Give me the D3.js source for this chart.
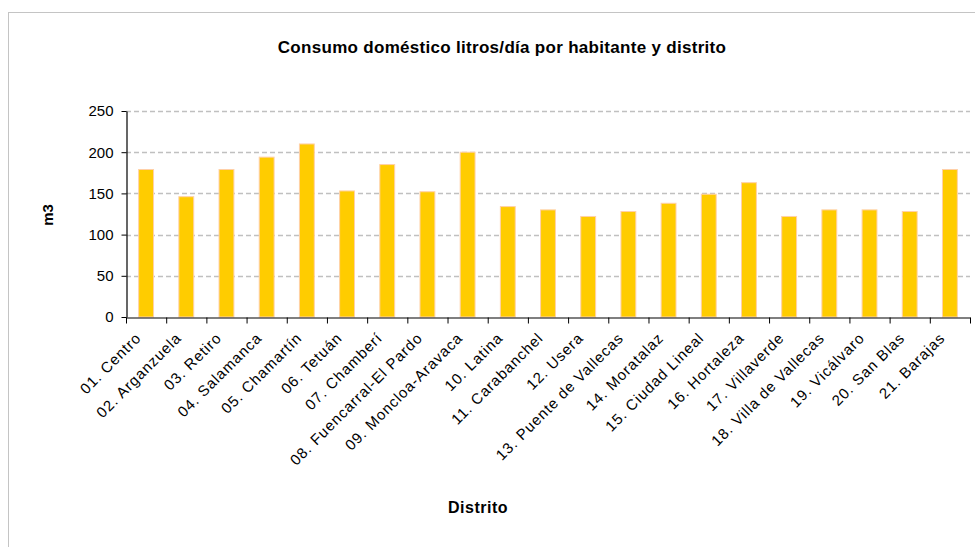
<!DOCTYPE html>
<html>
<head>
<meta charset="utf-8">
<script src="https://cdn.jsdelivr.net/npm/d3@7"></script>
<style>
  html, body { margin: 0; padding: 0; background: #fff; }
  svg { display: block; font-family: "Liberation Sans", Arial, sans-serif; }
</style>
</head>
<body>
<svg id="chart" width="975" height="547"></svg>
<script>
const title = "Consumo doméstico litros/día por habitante y distrito";
const xTitle = "Distrito";
const yTitle = "m3";
const districts = [
  "01. Centro", "02. Arganzuela", "03. Retiro", "04. Salamanca", "05. Chamartín",
  "06. Tetuán", "07. Chamberí", "08. Fuencarral-El Pardo", "09. Moncloa-Aravaca",
  "10. Latina", "11. Carabanchel", "12. Usera", "13. Puente de Vallecas",
  "14. Moratalaz", "15. Ciudad Lineal", "16. Hortaleza", "17. Villaverde",
  "18. Villa de Vallecas", "19. Vicálvaro", "20. San Blas", "21. Barajas"
];
const consumo = [179, 146, 179, 194, 210, 153, 185, 152, 200, 134, 130, 122, 128, 138, 149, 163, 122, 130, 130, 128, 179];
const yTicks = [0, 50, 100, 150, 200, 250];

const svg = d3.select("#chart");
const mLeft = 126, mRight = 970, mTop = 111, mBottom = 317;

// outer chart border
svg.append("rect")
  .attr("x", 8.5).attr("y", 12.5)
  .attr("width", 1000).attr("height", 1000)
  .attr("fill", "none").attr("stroke", "#c4c4c4").attr("stroke-width", 1);

const y = d3.scaleLinear().domain([0, 250]).range([mBottom, mTop]);
const x = d3.scaleBand().domain(districts).range([mLeft, mRight])
  .paddingInner(0.63).paddingOuter(0.315);
const xb = d3.scaleLinear().domain([0, districts.length]).range([mLeft, mRight]);

// gridlines
svg.append("g").selectAll("line")
  .data(yTicks.filter(d => d > 0))
  .join("line")
  .attr("x1", mLeft).attr("x2", mRight)
  .attr("y1", d => Math.round(y(d)) + 0.5).attr("y2", d => Math.round(y(d)) + 0.5)
  .attr("stroke", "#c0c0c0").attr("stroke-width", 1.3)
  .attr("stroke-dasharray", "5,3");

// bars
svg.append("g").selectAll("rect")
  .data(consumo)
  .join("rect")
  .attr("x", (d, i) => x(districts[i]))
  .attr("y", d => y(d))
  .attr("width", x.bandwidth())
  .attr("height", d => mBottom - y(d))
  .attr("fill", "#FFCC00")
  .attr("stroke", "#FFD0A8").attr("stroke-width", 1);

// y axis
const yAxis = svg.append("g")
  .attr("transform", `translate(${mLeft + 0.5},0)`)
  .call(d3.axisLeft(y).tickValues(yTicks).tickSize(5).tickPadding(8).tickSizeOuter(0));
yAxis.select(".domain").attr("stroke", "#000").attr("stroke-width", 1.2);
yAxis.selectAll(".tick line").attr("stroke", "#000");
yAxis.selectAll("text").attr("font-size", 15).attr("fill", "#000")
  .attr("font-family", "Liberation Sans, Arial, sans-serif");

// x axis ticks at category boundaries
const xAxis = svg.append("g")
  .attr("transform", `translate(0,${mBottom + 0.5})`)
  .call(d3.axisBottom(xb).tickValues(d3.range(districts.length + 1)).tickSize(6).tickFormat("").tickSizeOuter(0));
xAxis.select(".domain").attr("stroke", "#000").attr("stroke-width", 1.2);
xAxis.selectAll(".tick line").attr("stroke", "#000");

// x labels
svg.append("g").selectAll("text")
  .data(districts)
  .join("text")
  .attr("transform", d => `translate(${x(d) + x.bandwidth() / 2 - 4},${mBottom + 22}) rotate(-45)`)
  .attr("text-anchor", "end")
  .attr("font-size", 15)
  .attr("letter-spacing", "0.9px")
  .attr("fill", "#000")
  .text(d => d);

// title
svg.append("text")
  .attr("x", 502).attr("y", 53)
  .attr("text-anchor", "middle")
  .attr("font-size", 17).attr("font-weight", "bold")
  .attr("letter-spacing", "0.3px")
  .text(title);

// axis titles
svg.append("text")
  .attr("x", 478).attr("y", 513)
  .attr("text-anchor", "middle")
  .attr("font-size", 16).attr("font-weight", "bold")
  .attr("letter-spacing", "0.5px")
  .text(xTitle);

svg.append("text")
  .attr("transform", "translate(53,215) rotate(-90)")
  .attr("text-anchor", "middle")
  .attr("font-size", 15).attr("font-weight", "bold")
  .text(yTitle);
</script>
</body>
</html>
